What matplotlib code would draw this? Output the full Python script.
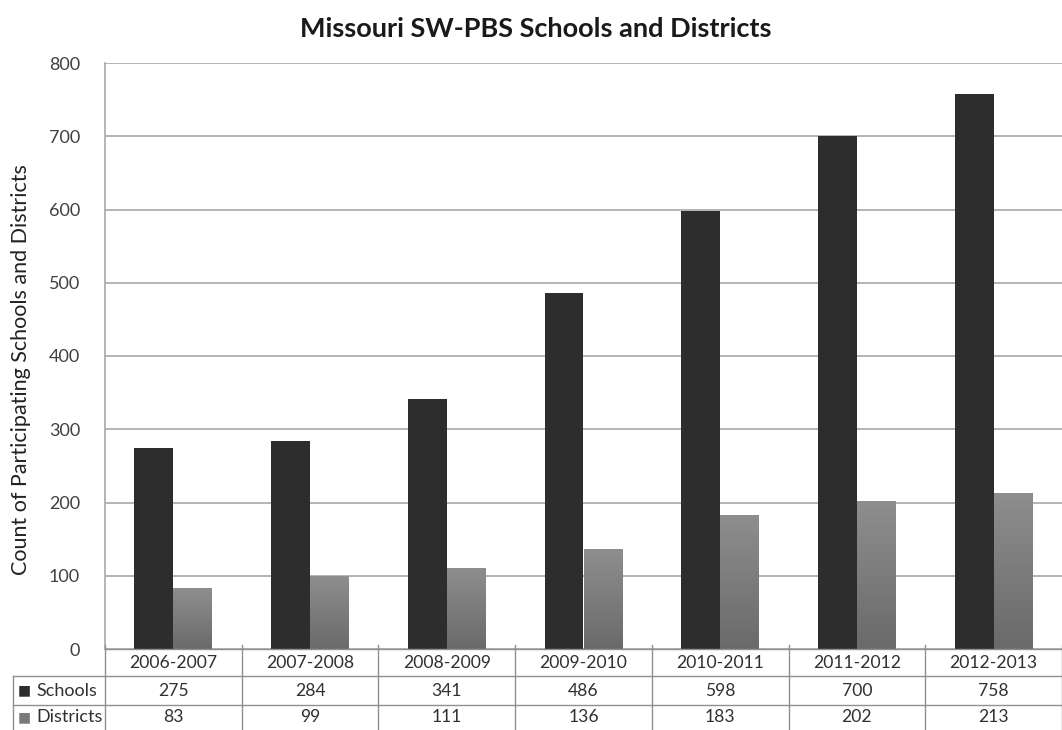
import numpy as np
import matplotlib
matplotlib.use("Agg")
import matplotlib.pyplot as plt
from matplotlib.lines import Line2D

plt.rcParams['font.family'] = ['Lato', 'DejaVu Sans']

years = ['2006-2007', '2007-2008', '2008-2009', '2009-2010',
         '2010-2011', '2011-2012', '2012-2013']
schools = [275, 284, 341, 486, 598, 700, 758]
districts = [83, 99, 111, 136, 183, 202, 213]
series_names = ['Schools', 'Districts']
series_colors = ['#2d2d2d', '#7a7a7a']

W, H = 1062, 730
fig = plt.figure(figsize=(W / 100, H / 100), dpi=100)

# plot area in pixel coords
x0, x1 = 105, 1062
y_top, y_bot = 63, 649
ax = fig.add_axes([x0 / W, 1 - y_bot / H, (x1 - x0) / W, (y_bot - y_top) / H])

n = len(years)
x = np.arange(n)
bw = 0.285

ax.bar(x - bw / 2, schools, width=bw, color=series_colors[0], zorder=3)

# districts with a soft vertical gradient
grad = np.linspace(0, 1, 100).reshape(-1, 1)
cmap = matplotlib.colors.LinearSegmentedColormap.from_list('g', ['#6a6a6a', '#8e8e8e'])
bars = ax.bar(x + bw / 2, districts, width=bw, color='none', zorder=3)
for b in bars:
    im = ax.imshow(grad, cmap=cmap, aspect='auto', origin='lower',
                   extent=[b.get_x(), b.get_x() + b.get_width(), 0, b.get_height()],
                   zorder=3)
    im.set_clip_path(b)

ax.set_xlim(-0.5, n - 0.5)
ax.set_ylim(0, 800)
ax.set_yticks(range(0, 801, 100))
ax.yaxis.grid(True, color='#a8a8a8', linewidth=1.2, zorder=0)
ax.set_xticks([])
ax.tick_params(axis='y', length=0, pad=18, labelsize=13, labelcolor='#404040')
for s in ['top', 'right', 'bottom']:
    ax.spines[s].set_visible(False)
ax.spines['left'].set_color('#a8a8a8')
ax.spines['left'].set_linewidth(1.2)

fig.text(21 / W, 1 - 370 / H, 'Count of Participating Schools and Districts',
         rotation=90, ha='center', va='center', fontsize=15.5, color='#222222')

fig.text(536 / W, 1 - 29 / H, 'Missouri SW-PBS Schools and Districts',
         ha='center', va='center', fontsize=19.5, fontweight='bold', color='#1a1a1a')

# data table under the axis
rows_y = [649, 676, 705, 730]
col_w = (x1 - x0) / n
lab_x0 = 13
lc = '#909090'


def fx(px):
    return px / W


def fy(py):
    return 1 - py / H


for yy in rows_y[:3]:
    xa = x0 if yy == rows_y[0] else lab_x0
    fig.add_artist(Line2D([fx(xa), fx(x1)], [fy(yy), fy(yy)], color=lc, lw=1.0))
fig.add_artist(Line2D([fx(lab_x0), fx(lab_x0)], [fy(rows_y[1]), fy(rows_y[3])], color=lc, lw=1.0))
for i in range(n + 1):
    xx = x0 + i * col_w
    fig.add_artist(Line2D([fx(xx), fx(xx)], [fy(rows_y[0] - 4), fy(rows_y[3])], color=lc, lw=1.0))

for i, yr in enumerate(years):
    cx = x0 + (i + 0.5) * col_w
    fig.text(fx(cx), fy((rows_y[0] + rows_y[1]) / 2), yr, ha='center', va='center',
             fontsize=12.6, color='#303030')
    fig.text(fx(cx), fy((rows_y[1] + rows_y[2]) / 2), str(schools[i]), ha='center',
             va='center', fontsize=12.6, color='#303030')
    fig.text(fx(cx), fy((rows_y[2] + rows_y[3]) / 2), str(districts[i]), ha='center',
             va='center', fontsize=12.6, color='#303030')

for r, (name, col) in enumerate(zip(series_names, series_colors)):
    cy = (rows_y[r + 1] + rows_y[r + 2]) / 2
    fig.text(fx(18), fy(cy), u'\u25a0', ha='left', va='center', fontsize=10, color=col,
             family=['DejaVu Sans'])
    fig.text(fx(36), fy(cy), name, ha='left', va='center', fontsize=13, color='#303030')

fig.savefig('out.png', dpi=100, facecolor='white')
